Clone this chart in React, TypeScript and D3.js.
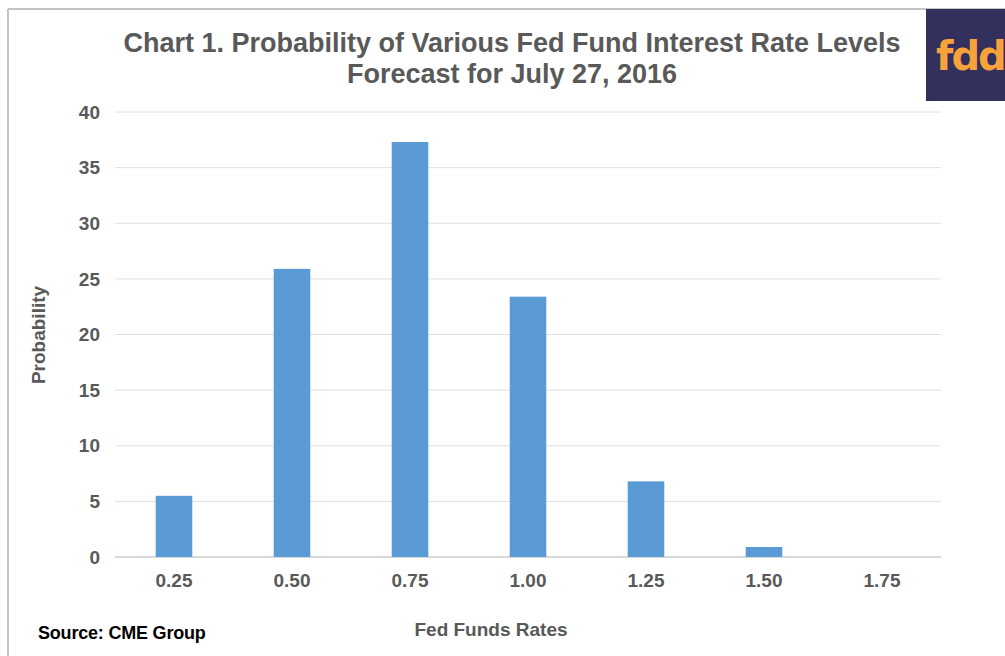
import * as d3 from "d3";

const rates = ["0.25", "0.50", "0.75", "1.00", "1.25", "1.50", "1.75"];
const probability = [5.5, 25.9, 37.3, 23.4, 6.8, 0.9, 0];
const yTicks = [0, 5, 10, 15, 20, 25, 30, 35, 40];

export default function App() {
  const width = 1005;
  const height = 656;
  const marginLeft = 115;
  const marginRight = 64;
  const marginTop = 112;
  const plotBottom = 557;

  const x = d3.scaleBand<string>()
    .domain(rates)
    .range([marginLeft, width - marginRight])
    .paddingInner(0.69)
    .paddingOuter(0.345);

  const y = d3.scaleLinear([0, 40], [plotBottom, marginTop]);

  const font = "'Liberation Sans', Arial, sans-serif";
  const grey = "#595959";

  return (
    <svg width={width} height={height} style={{ position: "absolute", left: 0, top: 0 }} fontFamily={font}>
      <rect x={0} y={0} width={width} height={height} fill="white" />
      {/* frame */}
      <line x1={8} x2={8} y1={9} y2={height} stroke="#c4c4c4" strokeWidth={2} />
      <line x1={8} x2={width} y1={9} y2={9} stroke="#c4c4c4" strokeWidth={2} />

      {/* title */}
      <text x={512} y={52} textAnchor="middle" fontSize={27} fontWeight="bold" fill={grey}>
        Chart 1. Probability of Various Fed Fund Interest Rate Levels
      </text>
      <text x={512} y={83} textAnchor="middle" fontSize={27} fontWeight="bold" fill={grey}>
        Forecast for July 27, 2016
      </text>

      {/* grid */}
      <g>
        {yTicks.map(t => (
          <g key={t}>
            <line x1={marginLeft} x2={width - marginRight} y1={y(t)} y2={y(t)}
              stroke={t === 0 ? "#d9d9d9" : "#e0e0e0"} strokeWidth={t === 0 ? 2 : 1} />
            <text x={100} y={y(t)} dy="0.35em" textAnchor="end" fontSize={19} fontWeight="bold" fill={grey}>
              {t}
            </text>
          </g>
        ))}
      </g>

      {/* bars */}
      <g fill="#5b9bd5">
        {rates.map((r, i) => (
          <rect key={r} x={x(r)} y={y(probability[i])} width={x.bandwidth()}
            height={y(0) - y(probability[i])} />
        ))}
      </g>

      {/* x labels */}
      <g>
        {rates.map(r => (
          <text key={r} x={(x(r) ?? 0) + x.bandwidth() / 2} y={587} textAnchor="middle"
            fontSize={19} fontWeight="bold" fill={grey}>
            {r}
          </text>
        ))}
      </g>

      <text transform="translate(45, 335) rotate(-90)" textAnchor="middle" fontSize={19} fontWeight="bold" fill={grey}>
        Probability
      </text>
      <text x={491} y={636} textAnchor="middle" fontSize={19} fontWeight="bold" fill={grey}>
        Fed Funds Rates
      </text>
      <text x={38} y={639} fontSize={18} fontWeight="bold" fill="#000" letterSpacing={-0.2}>
        Source: CME Group
      </text>

      {/* logo */}
      <rect x={926} y={9} width={width - 926} height={92} fill="#33305e" />
      <text x={936} y={70} fontSize={40} fontWeight="bold" fill="#f7a23b" fontFamily="'DejaVu Sans', sans-serif" letterSpacing={-2}>
        fdd
      </text>
    </svg>
  );
}
